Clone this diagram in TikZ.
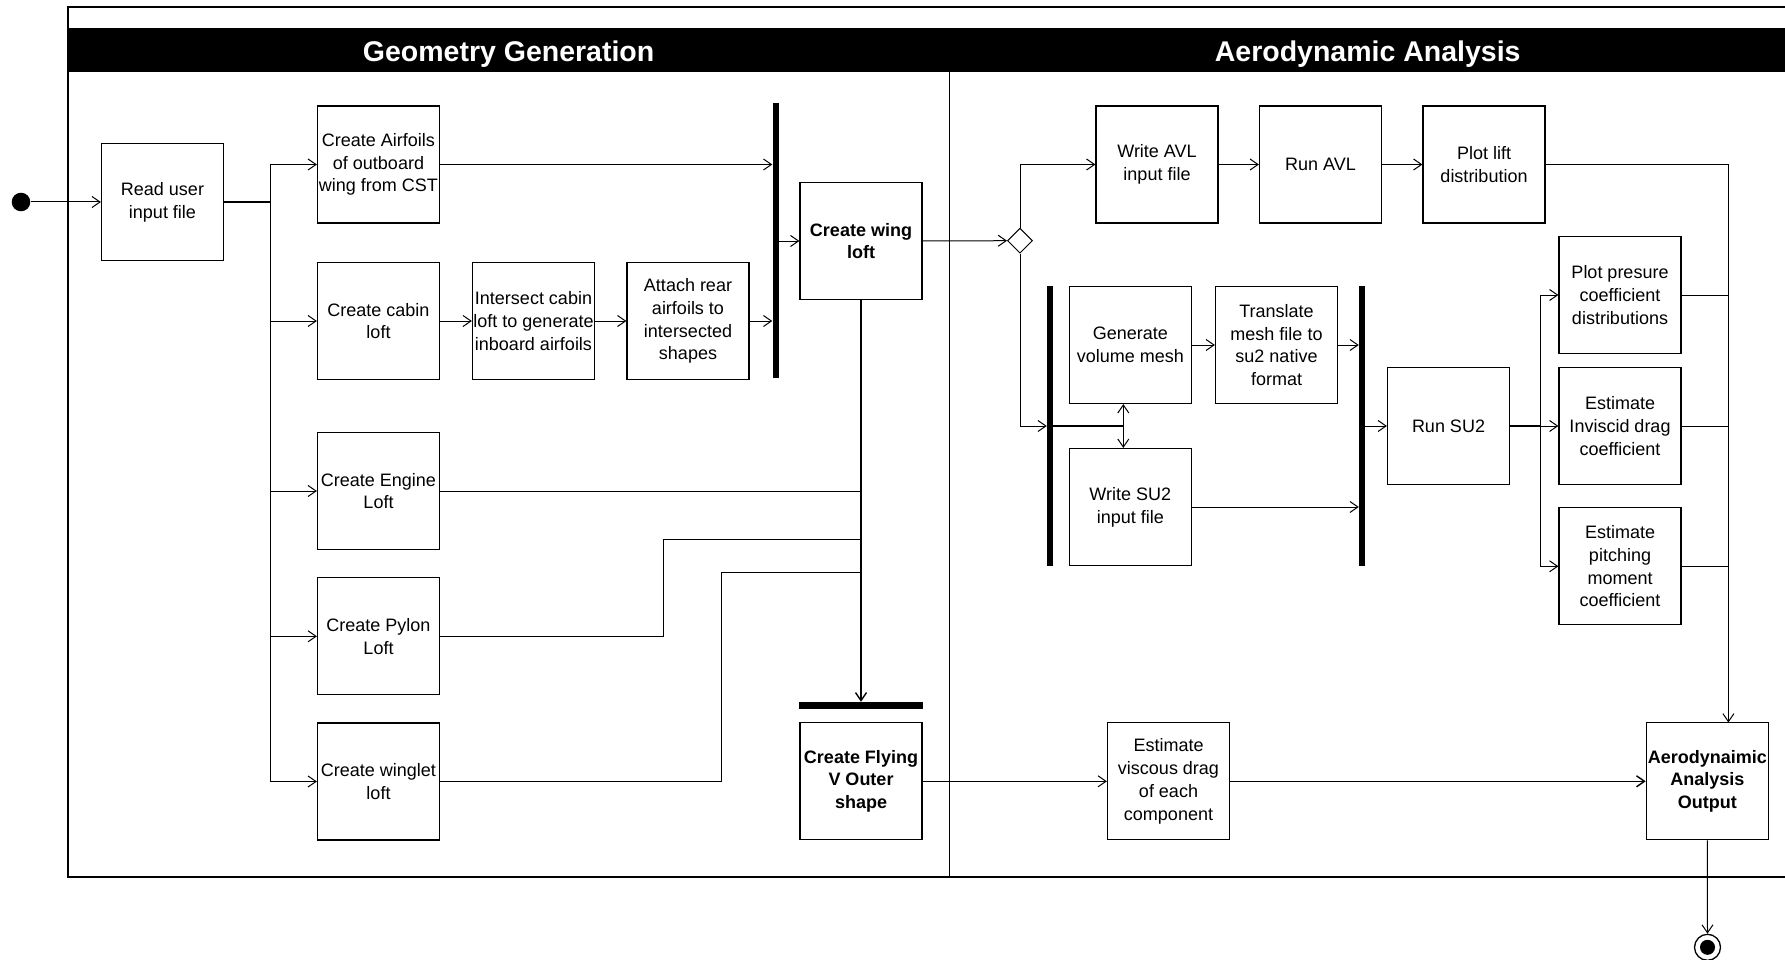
\documentclass[tikz,border=0pt]{standalone}
\usepackage{fontspec}
\setmainfont{Liberation Sans}
\usetikzlibrary{shapes.geometric}
\usetikzlibrary{arrows.meta}
\newcommand{\actfont}{\fontsize{18}{22.8}\selectfont}
\newcommand{\lanefont}{\fontsize{28.5}{34}\selectfont\bfseries}

\begin{document}
\begin{tikzpicture}[x=1pt, y=-1pt,
    act/.style={draw, line width=1.2pt, minimum width=122, minimum height=117, inner sep=1pt, align=center, font=\actfont},
    actb/.style={act, font=\actfont\bfseries},
    syncbar/.style={fill=black, inner sep=0pt},
    flow/.style={-{Straight Barb[length=8pt, width=11pt]}, line width=1pt},
    link/.style={line width=1pt},
    busline/.style={line width=1.8pt}]
    \useasboundingbox (0,0) rectangle (1785,960);
    \clip (0,0) rectangle (1785,960);

    % Frame and lanes
    \draw[line width=1.5pt] (1800,7) -| (68,877) -- (1800,877);
    \fill (68,28) rectangle (1800,72);
    \draw[line width=1.2pt] (949.5,72) -- (949.5,877);
    \node[anchor=base, text=white, font=\lanefont] (geotitle) at (508.6,61.7) {Geometry Generation};
    \node[anchor=base, text=white, font=\lanefont] (aerotitle) at (1367.7,61.7) {Aerodynamic Analysis};

    % Geometry activities
    \node[circle, fill, minimum size=18.6, inner sep=0pt] (start) at (21,202) {};
    \node[act] (read) at (162.5,202) {Read user\\input file};
    \node[act] (airfoils) at (378.5,164.5) {Create Airfoils\\of outboard\\wing from CST};
    \node[act] (cabin) at (378.5,321) {Create cabin\\loft};
    \node[act] (intersect) at (533.5,321) {Intersect cabin\\loft to generate\\inboard airfoils};
    \node[act] (attach) at (688,321) {Attach rear\\airfoils to\\intersected\\shapes};
    \node[act] (engine) at (378.5,491) {Create Engine\\Loft};
    \node[act] (pylon) at (378.5,636.3) {Create Pylon\\Loft};
    \node[act] (winglet) at (378.5,781.5) {Create winglet\\loft};
    \node[syncbar, minimum width=6, minimum height=275] (fork1) at (775.5,240.5) {};
    \node[actb] (wing) at (861,241) {Create wing\\loft};
    \node[syncbar, minimum width=124, minimum height=7] (join2) at (861,705.5) {};
    \node[actb] (flyv) at (861,781.3) {Create Flying\\V Outer\\shape};

    % Aerodynamic activities
    \node[draw, diamond, line width=1pt, minimum width=25, minimum height=25, inner sep=0pt] (dec) at (1020,240.7) {};
    \node[act] (writeavl) at (1157,164.5) {Write AVL\\input file};
    \node[act] (runavl) at (1320.5,164.5) {Run AVL};
    \node[act] (plotlift) at (1484,164.5) {Plot lift\\distribution};
    \node[syncbar, minimum width=6, minimum height=280] (fork3) at (1050,426) {};
    \node[act] (genmesh) at (1130.3,345) {Generate\\volume mesh};
    \node[act] (translate) at (1276.5,345) {Translate\\mesh file to\\su2 native\\format};
    \node[act] (writesu2) at (1130.3,507) {Write SU2\\input file};
    \node[syncbar, minimum width=6, minimum height=280] (fork4) at (1362,426) {};
    \node[act] (runsu2) at (1448.5,426) {Run SU2};
    \node[act] (plotcp) at (1620,295) {Plot presure\\coefficient\\distributions};
    \node[act] (inviscid) at (1620,426) {Estimate\\Inviscid drag\\coefficient};
    \node[act] (pitching) at (1620,566.3) {Estimate\\pitching\\moment\\coefficient};
    \node[act] (viscous) at (1168.5,781.3) {Estimate\\viscous drag\\of each\\component};
    \node[actb] (output) at (1707.3,781.3) {Aerodynaimic\\Analysis\\Output};
    \node[circle, draw, line width=1.3pt, minimum size=26, inner sep=0pt,
          path picture={\fill (path picture bounding box.center) circle (7.5pt);}] (end) at (1707.5,947.3) {};

    % Bends
    \coordinate (split) at (270,202);
    \coordinate (pyk) at (663,539.3);
    \coordinate (wk) at (721.6,572.6);
    \coordinate (mj) at (1123.3,426);
    \coordinate (sj) at (1540,426);
    \coordinate (mx) at (1728.4,722.5);

    % Geometry flows
    \draw[flow] (start) -- (read);
    \draw[busline] (read) -- (split);
    \draw[flow] (split) |- (airfoils);
    \draw[flow] (split) |- (cabin);
    \draw[flow] (split) |- (engine);
    \draw[flow] (split) |- (pylon);
    \draw[flow] (split) |- (winglet);
    \draw[flow] (airfoils) -- (airfoils -| fork1.west);
    \draw[flow] (cabin) -- (intersect);
    \draw[flow] (intersect) -- (attach);
    \draw[flow] (attach) -- (attach -| fork1.west);
    \draw[flow] (fork1.east |- wing) -- (wing);
    \draw[flow, line width=1.4pt] (wing) -- (join2);
    \draw[link] (engine) -- (engine -| wing);
    \draw[link] (pylon) -| (pyk) -- (pyk -| wing);
    \draw[link] (winglet) -| (wk) -- (wk -| wing);

    % Aerodynamic flows
    \draw[flow] (wing) -- (dec);
    \draw[flow] (dec) |- (writeavl);
    \draw[flow] (writeavl) -- (runavl);
    \draw[flow] (runavl) -- (plotlift);
    \draw[flow] (plotlift) -| (mx);
    \draw[flow] (dec) |- (fork3.west);
    \draw[busline] (fork3.east) -- (mj);
    \draw[flow] (mj) -- (mj |- genmesh.south);
    \draw[flow] (mj) -- (mj |- writesu2.north);
    \draw[flow] (genmesh) -- (translate);
    \draw[flow] (translate) -- (translate -| fork4.west);
    \draw[flow] (writesu2) -- (writesu2 -| fork4.west);
    \draw[flow] (fork4.east) -- (runsu2);
    \draw[busline] (runsu2) -- (sj);
    \draw[flow] (sj) |- (plotcp);
    \draw[flow] (sj) -- (inviscid);
    \draw[flow] (sj) |- (pitching);
    \draw[link] (plotcp) -- (plotcp -| mx);
    \draw[link] (inviscid) -- (inviscid -| mx);
    \draw[link] (pitching) -- (pitching -| mx);
    \draw[flow] (flyv) -- (viscous);
    \draw[flow, line width=1.4pt] (viscous) -- (output);
    \draw[flow] (output) -- (end);
\end{tikzpicture}
\end{document}
